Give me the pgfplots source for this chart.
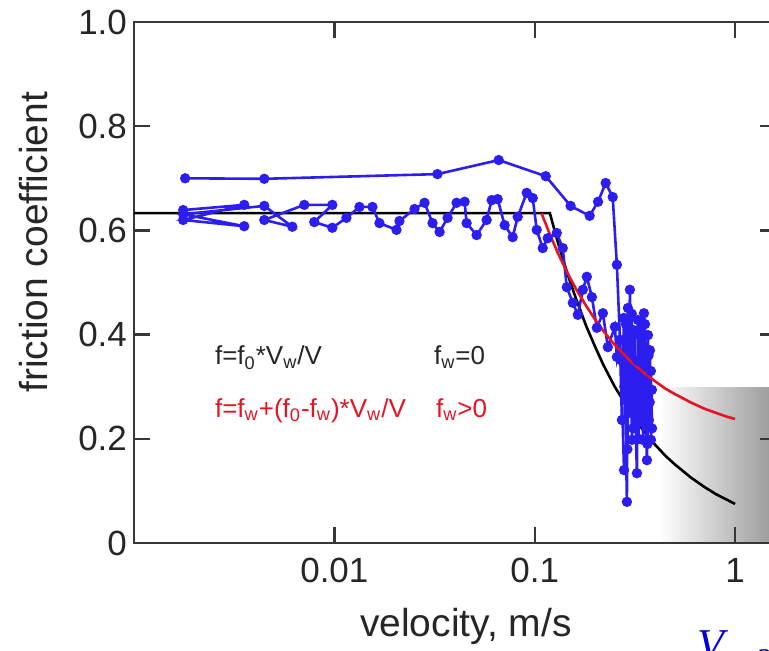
\documentclass[border=0pt]{standalone}
\usepackage{pgfplots}
\pgfplotsset{compat=1.18}
\usepackage{fontspec}
\setmainfont{Liberation Sans}
\newfontfamily\serifit{Liberation Serif}
\definecolor{bl}{RGB}{45,30,240}
\definecolor{rd}{RGB}{230,20,35}
\definecolor{ax}{RGB}{55,55,55}
\begin{document}
\begin{tikzpicture}
\path[use as bounding box] (0pt,0pt) rectangle (384.5pt,325.5pt);
\shade[left color=white, right color=black!38] (330pt,54pt) rectangle (384.5pt,131.5pt);
\begin{axis}[
  at={(67pt,54pt)}, anchor=south west, scale only axis,
  width=321pt, height=260.5pt,
  xmode=log, xmin=0.001, xmax=1.6, ymin=0, ymax=1,
  xtick={0.01,0.1,1}, xticklabels={0.01,0.1,1},
  xminorticks=false,
  ytick={0,0.2,0.4,0.6,0.8,1}, yticklabels={0,0.2,0.4,0.6,0.8,1.0},
  tick align=inside, major tick length=8pt,
  tick style={ax, line width=1.2pt},
  axis line style={ax, line width=1.2pt},
  tick label style={font=\fontsize{17.5}{20}\selectfont, text=black!85},
  xticklabel style={yshift=-4pt},
  xlabel={velocity, m/s},
  ylabel={friction coefficient},
  every axis x label/.style={at={(axis description cs:0.517,-0.161)}, anchor=center, font=\fontsize{19.5}{22}\selectfont, text=black!85},
  every axis y label/.style={at={(axis description cs:-0.157,0.577)}, anchor=center, rotate=90, font=\fontsize{19.5}{22}\selectfont, text=black!85},
  clip=false,
]
% model curve f_w = 0
\addplot[black, line width=1.3pt] coordinates {
(0.001,0.633) (0.119,0.633) (0.13,0.579) (0.14,0.538) (0.15,0.502) (0.16,0.471)
(0.18,0.418) (0.2,0.377) (0.22,0.342) (0.25,0.301) (0.3,0.251) (0.35,0.215)
(0.4,0.188) (0.45,0.167) (0.5,0.151) (0.6,0.126) (0.7,0.108) (0.8,0.094)
(0.9,0.084) (1.0,0.075)};
% series A
\addplot[bl, line width=1.3pt, mark=*, mark size=1.9pt] coordinates {
(0.00180,0.700) (0.00447,0.699) (0.0327,0.708) (0.0661,0.735) (0.1135,0.704)
(0.151,0.647) (0.188,0.628) (0.207,0.655) (0.226,0.691) (0.245,0.664)
(0.257,0.534) (0.269,0.351) (0.279,0.140)};
% series B
\addplot[bl, line width=1.3pt, mark=*, mark size=1.9pt] coordinates {
(0.00176,0.639) (0.00355,0.649) (0.00176,0.620) (0.00355,0.608) (0.00176,0.631)
(0.00447,0.647) (0.00617,0.607) (0.00447,0.620) (0.00708,0.649) (0.00977,0.649)
(0.00794,0.616) (0.00977,0.605) (0.01148,0.624) (0.01334,0.645) (0.01549,0.645)
(0.01679,0.614) (0.02042,0.601) (0.02113,0.618) (0.02512,0.641) (0.02818,0.653)
(0.03090,0.614) (0.03350,0.597) (0.03673,0.624) (0.04074,0.653) (0.04467,0.655)
(0.04571,0.614) (0.05129,0.591) (0.05754,0.620) (0.06095,0.658) (0.06531,0.660)
(0.07079,0.610) (0.07762,0.587) (0.08222,0.626) (0.09120,0.672) (0.09772,0.662)
(0.1023,0.601) (0.1096,0.566) (0.1161,0.585) (0.1288,0.595) (0.1380,0.566)
(0.1445,0.491) (0.1549,0.461) (0.1641,0.438) (0.1738,0.486) (0.1820,0.511)
(0.1928,0.472) (0.2042,0.413) (0.2188,0.441) (0.2317,0.376) (0.2512,0.415)
(0.2570,0.357) (0.2661,0.390) (0.2723,0.236) (0.2786,0.432) (0.2884,0.079)
(0.2917,0.451) (0.2951,0.274) (0.2985,0.486) (0.3055,0.198) (0.3090,0.409)
(0.3162,0.274) (0.3236,0.134) (0.3273,0.428) (0.3350,0.236) (0.3428,0.424)
(0.3467,0.198) (0.3508,0.441) (0.3548,0.294) (0.3631,0.159) (0.3673,0.399)
(0.3715,0.236) (0.3758,0.370) (0.3802,0.198) (0.3846,0.294)};
% dense part of the scatter near 0.3 m/s
\addplot[bl, line width=1.3pt, mark=*, mark size=1.9pt] coordinates {
(0.2800,0.300) (0.2850,0.420) (0.2900,0.180) (0.2950,0.380) (0.3000,0.250)
(0.3050,0.440) (0.3100,0.220) (0.3150,0.400) (0.3200,0.280) (0.3250,0.350)
(0.3300,0.200) (0.3350,0.410) (0.3400,0.260) (0.3450,0.380) (0.3500,0.230)
(0.3550,0.420) (0.3600,0.300) (0.3650,0.190) (0.3700,0.360) (0.3750,0.270)
(0.3800,0.330) (0.3850,0.220)};
% model curve f_w > 0
\addplot[rd, line width=1.3pt] coordinates {
(0.108,0.633) (0.12,0.589) (0.13,0.558) (0.14,0.532) (0.15,0.509) (0.16,0.489)
(0.18,0.456) (0.2,0.429) (0.22,0.407) (0.25,0.381) (0.3,0.349) (0.35,0.327)
(0.4,0.310) (0.45,0.296) (0.5,0.286) (0.6,0.270) (0.7,0.258) (0.8,0.250)
(0.9,0.243) (1.0,0.238)};
\node[anchor=base west, font=\fontsize{13}{15}\selectfont, text=black!85] at (rel axis cs:0.1153,0.3417) {f=f\textsubscript{0}*V\textsubscript{w}/V};
\node[anchor=base west, font=\fontsize{13}{15}\selectfont, text=black!85] at (rel axis cs:0.4564,0.3417) {f\textsubscript{w}=0};
\node[anchor=base west, font=\fontsize{13}{15}\selectfont, text=rd] at (rel axis cs:0.1153,0.2418) {f=f\textsubscript{w}+(f\textsubscript{0}-f\textsubscript{w})*V\textsubscript{w}/V};
\node[anchor=base west, font=\fontsize{13}{15}\selectfont, text=rd] at (rel axis cs:0.4595,0.2418) {f\textsubscript{w}>0};
\end{axis}
\node[anchor=base west, inner sep=0pt, text=blue!85!black, font=\serifit\itshape\fontsize{22}{22}\selectfont] at (348.5pt,-4.5pt) {V};
\node[anchor=base west, inner sep=0pt, text=blue!60!black, font=\serifit\fontsize{18}{18}\selectfont] at (378pt,-8pt) {a};
\end{tikzpicture}
\end{document}
